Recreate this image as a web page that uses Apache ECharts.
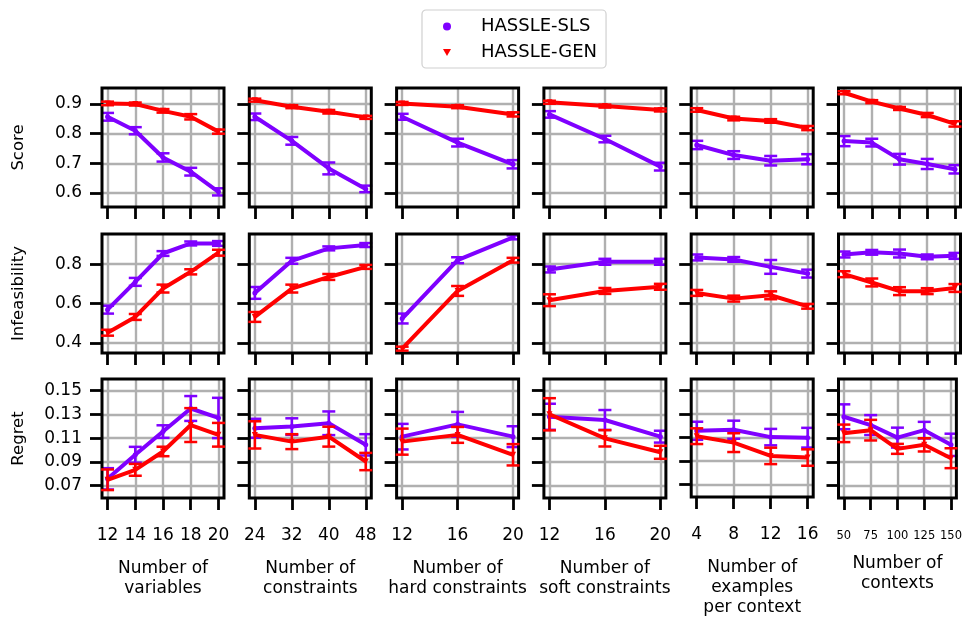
<!DOCTYPE html>
<html>
<head>
<meta charset="utf-8">
<script src="https://cdn.jsdelivr.net/npm/echarts@6/dist/echarts.min.js"></script>
<style>
  html, body { margin: 0; padding: 0; background: #fff; }
  #chart { width: 965px; height: 619px; }
</style>
</head>
<body>
<div id="chart"></div>
<script>
// ---------- DATA ----------
const xVariables   = [12, 14, 16, 18, 20];
const xConstraints = [24, 32, 40, 48];
const xHard        = [12, 16, 20];
const xSoft        = [12, 16, 20];
const xExamples    = [4, 8, 12, 16];
const xContexts    = [50, 75, 100, 125, 150];

const xNames = ['Number of\nvariables', 'Number of\nconstraints', 'Number of\nhard constraints',
                'Number of\nsoft constraints', 'Number of\nexamples\nper context', 'Number of\ncontexts'];
const rowNames = ['Score', 'Infeasibility', 'Regret'];
const seriesNames = ['HASSLE-SLS', 'HASSLE-GEN'];

const scoreTicks  = [0.6, 0.7, 0.8, 0.9];
const infeasTicks = [0.4, 0.6, 0.8];
const regretTicks = [0.07, 0.09, 0.11, 0.13, 0.15];

// Score
const scoreSLS = [
  [0.857, 0.810, 0.720, 0.672, 0.604],
  [0.857, 0.776, 0.683, 0.614],
  [0.857, 0.770, 0.697],
  [0.865, 0.782, 0.689],
  [0.762, 0.728, 0.709, 0.714],
  [0.775, 0.770, 0.714, 0.698, 0.680]
];
const scoreSLSErr = [
  [0.013, 0.012, 0.014, 0.013, 0.012],
  [0.011, 0.013, 0.020, 0.011],
  [0.010, 0.013, 0.014],
  [0.011, 0.011, 0.013],
  [0.014, 0.013, 0.016, 0.017],
  [0.017, 0.013, 0.018, 0.017, 0.014]
];
const scoreGEN = [
  [0.902, 0.900, 0.877, 0.857, 0.807],
  [0.913, 0.891, 0.874, 0.855],
  [0.902, 0.891, 0.865],
  [0.906, 0.893, 0.880],
  [0.880, 0.851, 0.843, 0.819],
  [0.938, 0.908, 0.885, 0.863, 0.833]
];
const scoreGENErr = [
  [0.006, 0.005, 0.006, 0.009, 0.007],
  [0.005, 0.005, 0.006, 0.005],
  [0.005, 0.005, 0.007],
  [0.005, 0.005, 0.005],
  [0.006, 0.006, 0.006, 0.007],
  [0.005, 0.005, 0.005, 0.007, 0.009]
];

// Infeasibility
const infeasSLS = [
  [0.569, 0.710, 0.854, 0.905, 0.905],
  [0.654, 0.817, 0.880, 0.897],
  [0.524, 0.820, 0.936],
  [0.773, 0.812, 0.812],
  [0.834, 0.824, 0.786, 0.752],
  [0.849, 0.860, 0.854, 0.837, 0.842]
];
const infeasSLSErr = [
  [0.020, 0.020, 0.012, 0.010, 0.012],
  [0.030, 0.015, 0.010, 0.010],
  [0.025, 0.015, 0.010],
  [0.015, 0.015, 0.015],
  [0.015, 0.012, 0.035, 0.020],
  [0.015, 0.012, 0.020, 0.012, 0.015]
];
const infeasGEN = [
  [0.452, 0.532, 0.676, 0.761, 0.858],
  [0.532, 0.676, 0.735, 0.786],
  [0.371, 0.664, 0.820],
  [0.617, 0.664, 0.685],
  [0.654, 0.625, 0.642, 0.586],
  [0.749, 0.707, 0.663, 0.663, 0.679]
];
const infeasGENErr = [
  [0.015, 0.015, 0.020, 0.013, 0.015],
  [0.025, 0.020, 0.015, 0.010],
  [0.010, 0.025, 0.012],
  [0.030, 0.015, 0.015],
  [0.015, 0.015, 0.020, 0.012],
  [0.015, 0.020, 0.020, 0.015, 0.020]
];

// Regret
const regretSLS = [
  [0.0756, 0.0959, 0.1155, 0.1350, 0.1270],
  [0.1183, 0.1197, 0.1225, 0.1043],
  [0.1112, 0.1216, 0.1112],
  [0.1280, 0.1253, 0.1112],
  [0.1158, 0.1167, 0.1104, 0.1099],
  [0.1280, 0.1210, 0.1104, 0.1167, 0.1043]
];
const regretSLSErr = [
  [0.0090, 0.0067, 0.0053, 0.0105, 0.0170],
  [0.0080, 0.0070, 0.0100, 0.0090],
  [0.0108, 0.0105, 0.0088],
  [0.0110, 0.0084, 0.0050],
  [0.0077, 0.0077, 0.0070, 0.0084],
  [0.0105, 0.0084, 0.0084, 0.0070, 0.0094]
];
const regretGEN = [
  [0.0748, 0.0832, 0.0987, 0.1210, 0.1128],
  [0.1127, 0.1070, 0.1112, 0.0902],
  [0.1070, 0.1127, 0.0959],
  [0.1301, 0.1098, 0.0980],
  [0.1112, 0.1057, 0.0944, 0.0930],
  [0.1140, 0.1167, 0.1009, 0.1043, 0.0930]
];
const regretGENErr = [
  [0.0087, 0.0050, 0.0040, 0.0143, 0.0100],
  [0.0115, 0.0063, 0.0084, 0.0073],
  [0.0110, 0.0067, 0.0090],
  [0.0136, 0.0069, 0.0055],
  [0.0067, 0.0080, 0.0070, 0.0070],
  [0.0074, 0.0087, 0.0042, 0.0056, 0.0084]
];

// ---------- LAYOUT ----------
const xCats = [xVariables, xConstraints, xHard, xSoft, xExamples, xContexts];
const rows = [
  { ticks: scoreTicks,  min: 0.553, max: 0.954, sls: scoreSLS,  slsErr: scoreSLSErr,  gen: scoreGEN,  genErr: scoreGENErr },
  { ticks: infeasTicks, min: 0.349, max: 0.953, sls: infeasSLS, slsErr: infeasSLSErr, gen: infeasGEN, genErr: infeasGENErr },
  { ticks: regretTicks, min: 0.0594, max: 0.1599, sls: regretSLS, slsErr: regretSLSErr, gen: regretGEN, genErr: regretGENErr }
];
const colors = ['#7f00ff', '#ff0000'];
const FONT = 'DejaVu Sans';
const gridTops = [88, 234, 379];
const gridLeft0 = 102, colStep = 147.3, gridW = 122, gridH = 119;

const grids = [], xAxes = [], yAxes = [], series = [];

function errRender(color) {
  return function (params, api) {
    const x = api.value(0), lo = api.value(1), hi = api.value(2);
    const p1 = api.coord([x, hi]);
    const p2 = api.coord([x, lo]);
    const hw = 6.5;
    const st = { stroke: color, lineWidth: 2.5 };
    return {
      type: 'group',
      children: [
        { type: 'line', shape: { x1: p1[0], y1: p1[1], x2: p2[0], y2: p2[1] }, style: st },
        { type: 'line', shape: { x1: p1[0] - hw, y1: p1[1], x2: p1[0] + hw, y2: p1[1] }, style: st },
        { type: 'line', shape: { x1: p2[0] - hw, y1: p2[1], x2: p2[0] + hw, y2: p2[1] }, style: st }
      ]
    };
  };
}

let k = 0;
for (let r = 0; r < 3; r++) {
  for (let c = 0; c < 6; c++) {
    const xs = xCats[c];
    const span = xs[xs.length - 1] - xs[0];
    grids.push({
      left: gridLeft0 + c * colStep, top: gridTops[r], width: gridW, height: gridH,
      show: true, borderColor: '#000', borderWidth: 3, backgroundColor: 'transparent', z: 5
    });
    const small = c === 5;
    xAxes.push({
      gridIndex: k, type: 'value',
      min: xs[0] - 0.05 * span, max: xs[xs.length - 1] + 0.05 * span,
      axisLine: { show: false },
      axisTick: { show: true, length: 12, customValues: xs, lineStyle: { color: '#000', width: 2.8 } },
      axisLabel: {
        show: r === 2, customValues: xs, margin: small ? 32 : 29,
        fontSize: small ? 11.5 : 17, color: '#000', fontFamily: FONT
      },
      splitLine: { show: true, lineStyle: { color: '#b0b0b0', width: 2.4 } },
      name: r === 2 ? xNames[c] : '',
      nameLocation: 'middle', nameGap: small ? 56 : 61,
      nameTextStyle: { fontSize: 17, color: '#000', fontFamily: FONT, lineHeight: 20 }
    });
    const row = rows[r];
    yAxes.push({
      gridIndex: k, type: 'value', min: row.min, max: row.max,
      axisLine: { show: false },
      axisTick: { show: true, length: 12, customValues: row.ticks, lineStyle: { color: '#000', width: 2.8 } },
      axisLabel: {
        show: c === 0, customValues: row.ticks, margin: 20,
        fontSize: 17, color: '#000', fontFamily: FONT
      },
      splitLine: { show: true, lineStyle: { color: '#b0b0b0', width: 2.4 } },
      name: c === 0 ? rowNames[r] : '',
      nameLocation: 'middle', nameGap: 75, nameRotate: 90,
      nameTextStyle: { fontSize: 16.5, color: '#000', fontFamily: FONT }
    });
    const groups = [[row.sls[c], row.slsErr[c]], [row.gen[c], row.genErr[c]]];
    for (let s = 0; s < 2; s++) {
      const vals = groups[s][0], errs = groups[s][1];
      series.push({
        name: seriesNames[s], type: 'line', xAxisIndex: k, yAxisIndex: k,
        data: xs.map((x, i) => [x, vals[i]]),
        symbol: s === 0 ? 'circle' : 'triangle', symbolRotate: s === 0 ? 0 : 180,
        symbolSize: s === 0 ? 5 : 6, showSymbol: true,
        lineStyle: { color: colors[s], width: 4 },
        itemStyle: { color: colors[s] },
        animation: false, z: 2 + s * 2
      });
      series.push({
        name: seriesNames[s], type: 'custom', xAxisIndex: k, yAxisIndex: k,
        data: xs.map((x, i) => [x, vals[i] - errs[i], vals[i] + errs[i]]),
        encode: { x: 0, y: [1, 2] },
        renderItem: errRender(colors[s]),
        itemStyle: { color: colors[s] },
        animation: false, z: 3 + s * 2
      });
    }
    k++;
  }
}

const chart = echarts.init(document.getElementById('chart'), null, { renderer: 'canvas' });
chart.setOption({
  animation: false,
  backgroundColor: '#fff',
  textStyle: { fontFamily: FONT },
  legend: {
    orient: 'vertical', left: 422, top: 10,
    padding: [6, 9, 5, 21], itemGap: 5, itemWidth: 8, itemHeight: 8,
    borderColor: '#d0d0d0', borderWidth: 1.2, borderRadius: 4,
    textStyle: { fontSize: 18, color: '#000', fontFamily: FONT, padding: [0, 0, 0, 25], lineHeight: 21 },
    data: [
      { name: 'HASSLE-SLS', icon: 'circle', itemStyle: { color: colors[0] } },
      { name: 'HASSLE-GEN', icon: 'path://M0,0 L10,0 L5,9 Z', itemStyle: { color: colors[1] } }
    ]
  },
  grid: grids, xAxis: xAxes, yAxis: yAxes, series: series
});
</script>
</body>
</html>
